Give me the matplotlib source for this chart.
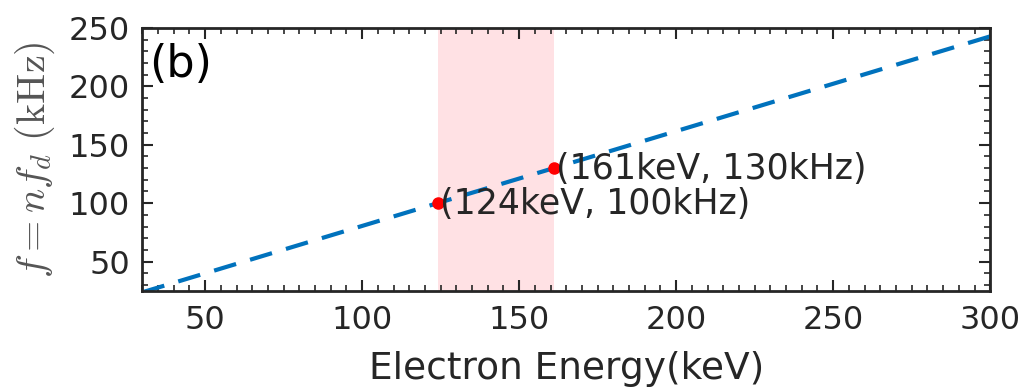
import matplotlib
matplotlib.use('Agg')
import matplotlib.pyplot as plt
from matplotlib.ticker import MultipleLocator
import numpy as np

# energy range (keV) and linear relation f = slope * E
energy = np.array([30, 300])
slope = 30 / 37  # kHz per keV, from the two marked points
freq = 100 + slope * (energy - 124)

band = (124, 161)
pts_e = [124, 161]
pts_f = [100, 130]
pt_labels = ['(124keV, 100kHz)', '(161keV, 130kHz)']

plt.rcParams['mathtext.fontset'] = 'cm'
txt = '#262626'

fig = plt.figure(figsize=(10.24, 3.92), dpi=100)
ax = fig.add_axes([0.139, 0.258, 0.828, 0.671])

ax.axvspan(*band, color='#ffe1e4', lw=0, zorder=0)
ax.plot(energy, freq, ls=(0, (5.5, 3.5)), color='#0072BD', lw=3, zorder=2)
ax.plot(pts_e, pts_f, 'o', color='red', ms=8, zorder=3)
for e, f, s in zip(pts_e, pts_f, pt_labels):
    ax.text(e + 0.8, f - 1, s, ha='left', va='center', fontsize=25, color=txt, zorder=4)

ax.text(0.008, 0.86, '(b)', transform=ax.transAxes, ha='left', va='center',
        fontsize=32, color='black')

ax.set_xlim(30, 300)
ax.set_ylim(25, 250)
ax.xaxis.set_major_locator(MultipleLocator(50))
ax.xaxis.set_minor_locator(MultipleLocator(5))
ax.yaxis.set_major_locator(MultipleLocator(50))
ax.yaxis.set_minor_locator(MultipleLocator(10))
ax.tick_params(which='both', direction='in', top=True, right=True,
               color='#262626', labelcolor=txt, labelsize=23)
ax.tick_params(which='major', length=8, width=1.5)
ax.tick_params(which='minor', length=4, width=1.2)
ax.tick_params(axis='x', pad=10)
ax.tick_params(axis='y', pad=9)
for sp in ax.spines.values():
    sp.set_linewidth(2)
    sp.set_color('#262626')

ax.set_xlabel('Electron Energy(keV)', fontsize=27, color=txt, labelpad=11)
ax.set_ylabel(r'$f = nf_d\ \mathrm{(kHz)}$', fontsize=29, color='#555555', labelpad=8)

fig.savefig('out.png', dpi=100)
